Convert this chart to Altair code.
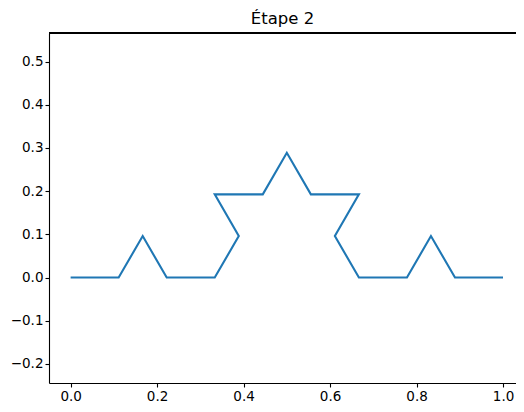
import altair as alt
import pandas as pd

# Koch curve, step 2
xs = [0.0, 0.1111, 0.1667, 0.2222, 0.3333, 0.3889, 0.3333, 0.4444, 0.5,
      0.5556, 0.6667, 0.6111, 0.6667, 0.7778, 0.8333, 0.8889, 1.0]
ys = [0.0, 0.0, 0.0962, 0.0, 0.0, 0.0962, 0.1925, 0.1925, 0.2887,
      0.1925, 0.1925, 0.0962, 0.0, 0.0, 0.0962, 0.0, 0.0]
x_ticks = [0.0, 0.2, 0.4, 0.6, 0.8, 1.0]
y_ticks = [-0.2, -0.1, 0.0, 0.1, 0.2, 0.3, 0.4, 0.5]

df = pd.DataFrame({"x": xs, "y": ys, "i": list(range(len(xs)))})

W, H = 467, 350

line = alt.Chart(df).mark_line(color="#1f77b4", strokeWidth=2.1).encode(
    x=alt.X("x:Q", scale=alt.Scale(domain=[-0.05, 1.030], nice=False, zero=False),
            axis=alt.Axis(values=x_ticks, format=".1f", title=None)),
    y=alt.Y("y:Q", scale=alt.Scale(domain=[-0.244, 0.566], nice=False, zero=False),
            axis=alt.Axis(values=y_ticks, format=".1f", title=None)),
    order="i:Q",
)

top = alt.Chart(df).mark_rule(color="black", strokeWidth=1.1).encode(
    x=alt.value(0), x2=alt.value(W), y=alt.value(0)
)

chart = (
    alt.layer(line, top)
    .properties(
        width=W, height=H,
        title=alt.Title("Étape 2", fontSize=16.5, fontWeight="normal", font="DejaVu Sans",
                        color="black", offset=5, anchor="middle"),
        autosize=alt.AutoSizeParams(type="none"),
        padding={"left": 41, "top": 25, "right": 0, "bottom": 21},
    )
    .configure_view(stroke=None)
    .configure_axis(
        grid=False,
        domainColor="black", domainWidth=1.1,
        tickColor="black", tickWidth=1.1, tickSize=4,
        labelFont="DejaVu Sans", labelFontSize=13.5, labelColor="black",
        labelPadding=2,
    )
)

chart.save("out.html", embed_options={"renderer": "svg", "actions": False})
